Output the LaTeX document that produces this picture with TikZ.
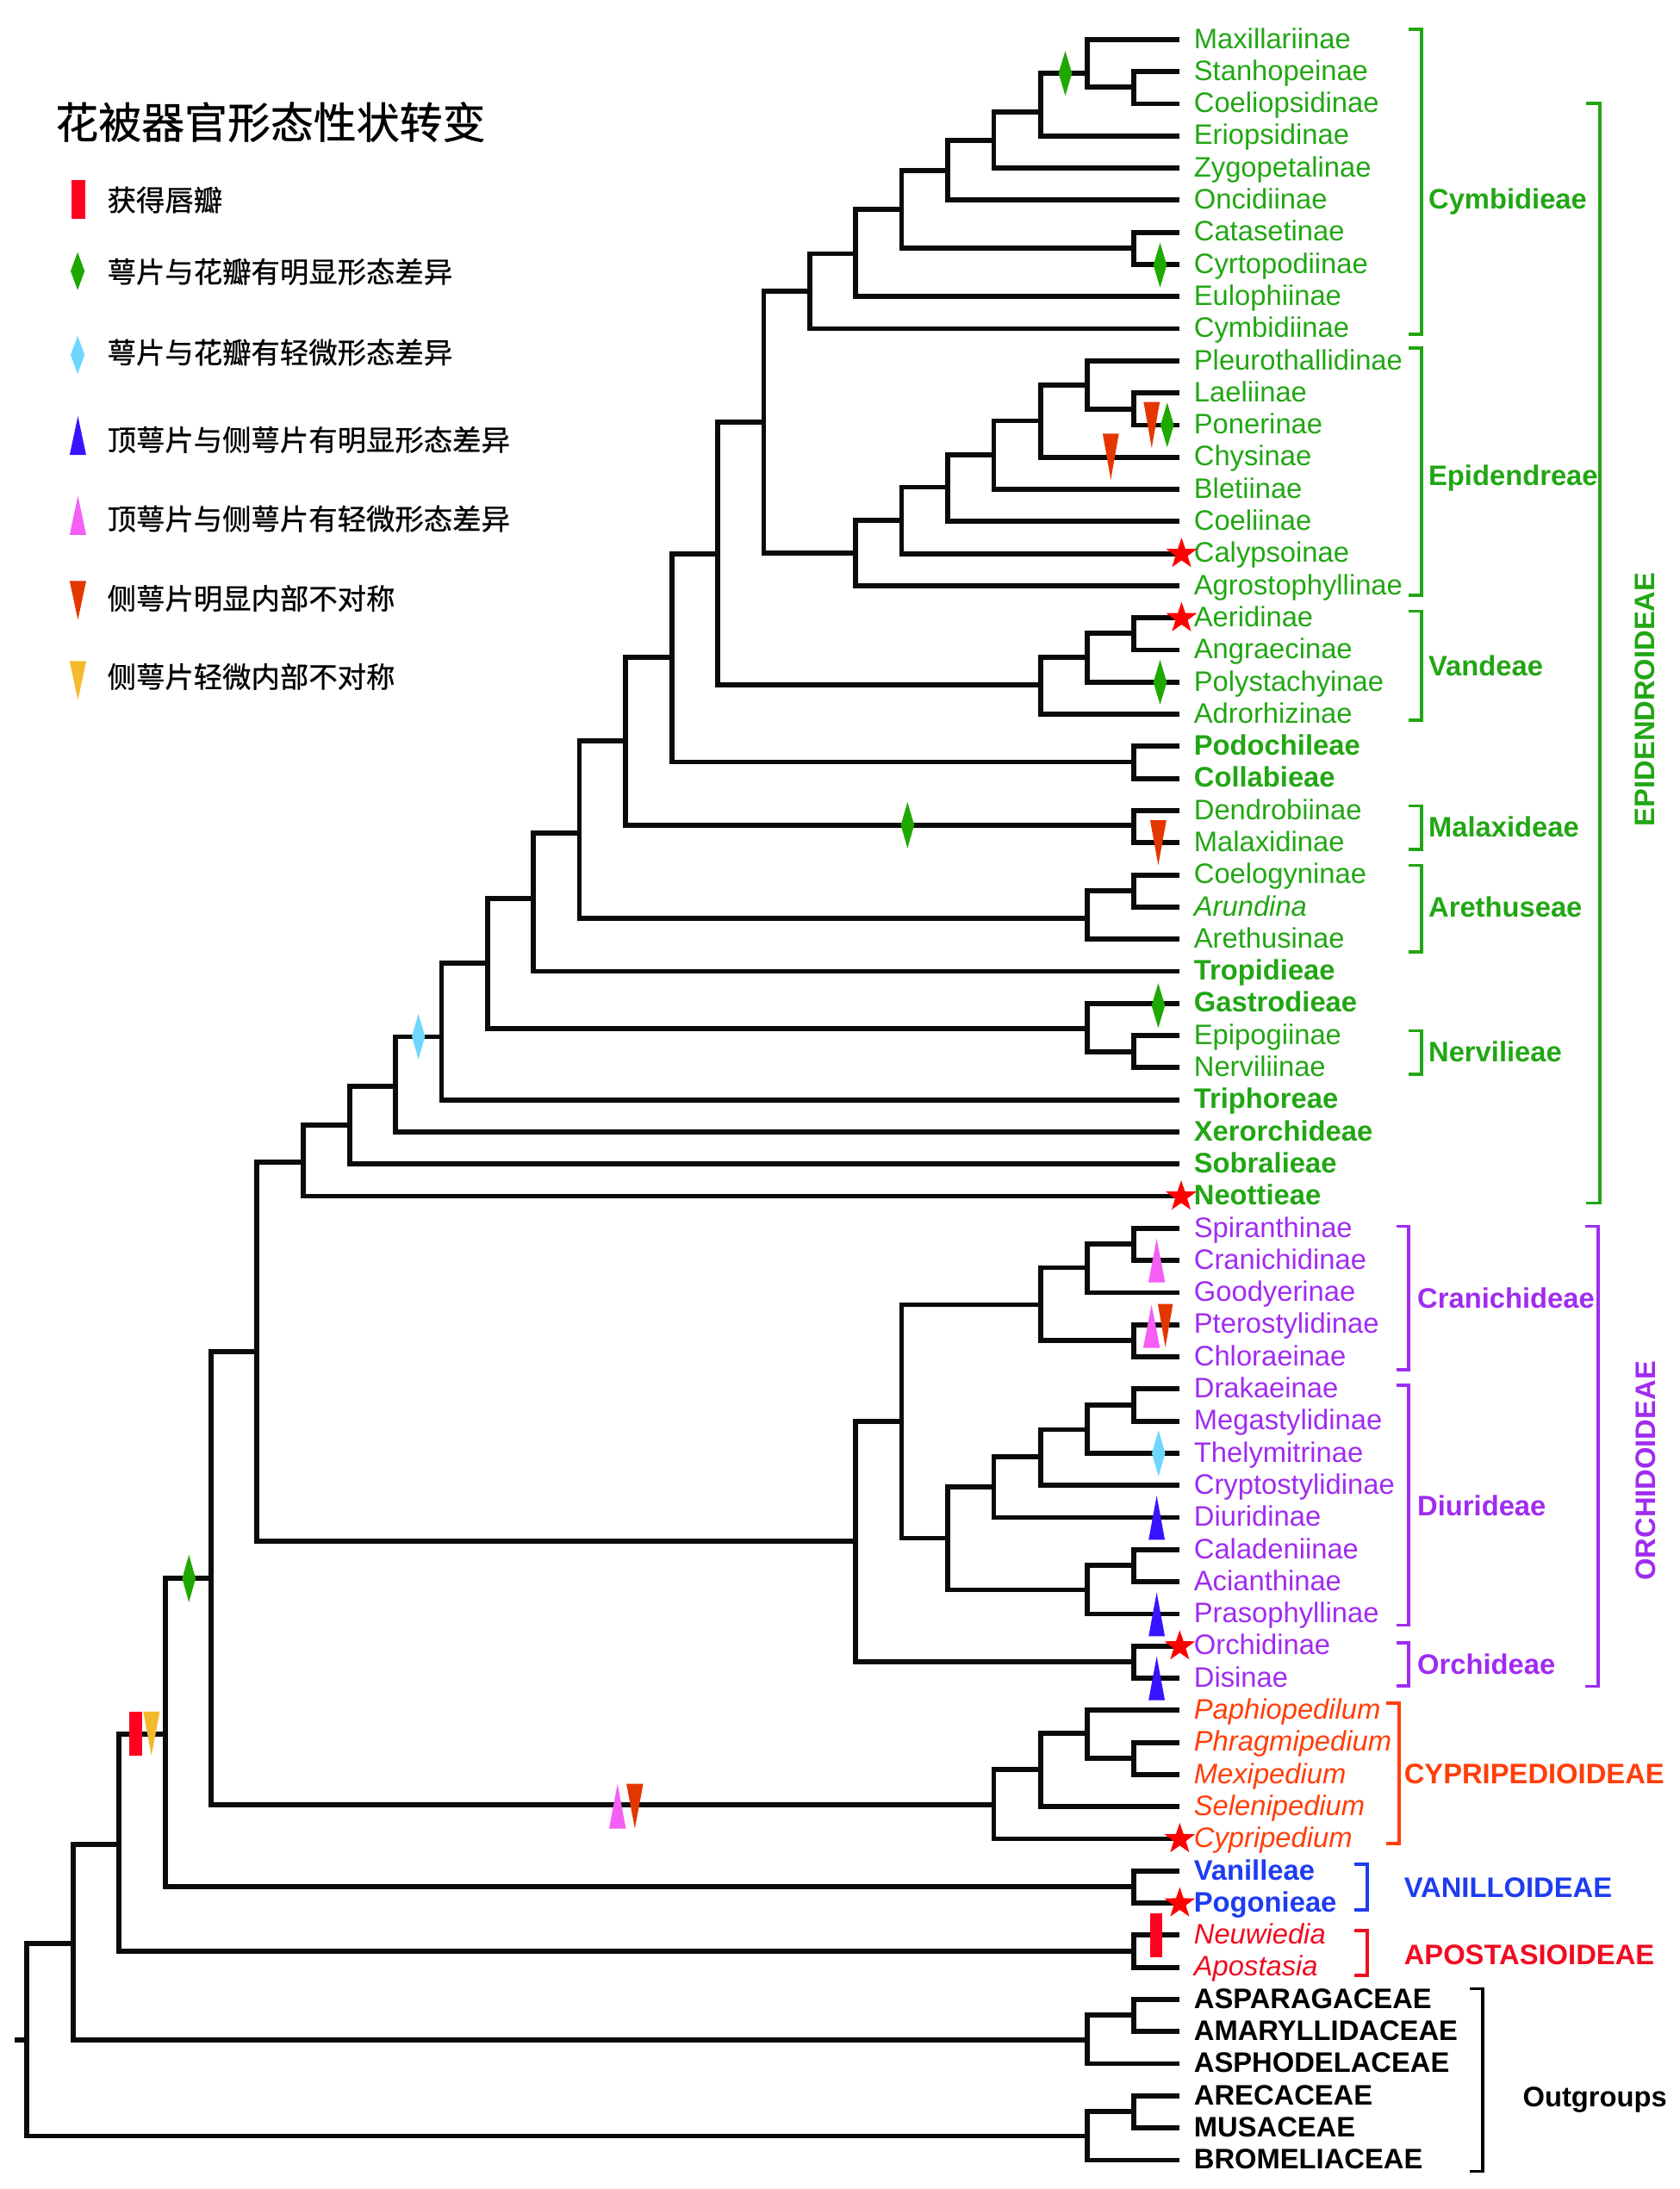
\documentclass[tikz,border=0pt]{standalone}
\usepackage{fontspec}
\setmainfont{Liberation Sans}
\newfontfamily\cjkfont[FakeBold=0.7]{Noto Sans CJK SC}
\usetikzlibrary{shapes.geometric,calc}
\definecolor{tgreen}{RGB}{34,166,20}
\definecolor{tpurple}{RGB}{160,44,240}
\definecolor{torange}{RGB}{255,62,10}
\definecolor{tblue}{RGB}{30,60,240}
\definecolor{tred}{RGB}{240,12,32}
\definecolor{lineblack}{RGB}{10,12,10}
\definecolor{mred}{RGB}{255,0,32}
\definecolor{mgreen}{RGB}{30,168,0}
\definecolor{mlblue}{RGB}{110,215,255}
\definecolor{mblue}{RGB}{55,20,255}
\definecolor{mpink}{RGB}{245,95,245}
\definecolor{mrorange}{RGB}{228,55,0}
\definecolor{morange}{RGB}{245,185,45}
\definecolor{starred}{RGB}{255,0,0}
\newcommand{\mkdia}[5]{\fill[#1] (#2,#3) ++(0,-#5) -- ++(#4,#5) -- ++(-#4,#5) -- ++(-#4,-#5) -- cycle;}
\newcommand{\mkup}[5]{\fill[#1] (#2,#3) ++(0,-#5) -- ++(#4,2*#5) -- ++(-2*#4,0) -- cycle;}
\newcommand{\mkdown}[5]{\fill[#1] (#2,#3) ++(0,#5) -- ++(#4,-2*#5) -- ++(-2*#4,0) -- cycle;}
\newcommand{\mkbar}[5]{\fill[#1] (#2,#3) ++(-#4,-#5) rectangle ++(2*#4,2*#5);}
\newcommand{\mkstar}[2]{\fill[starred, shift={(#1,#2)}] (-90:11.6) -- (-54:4.6) -- (-18:11.6) -- (18:4.6) -- (54:11.6) -- (90:4.6) -- (126:11.6) -- (162:4.6) -- (198:11.6) -- (234:4.6) -- cycle;}
\begin{document}
\begin{tikzpicture}[x=1pt,y=-1pt,
  br/.style={line width=3.6pt, draw=lineblack, line join=miter, line cap=butt},
  brk/.style={line width=2.2pt, line join=miter, line cap=butt},
  leaf/.style={anchor=base west, inner sep=0pt, font=\fontsize{20.2}{24}\selectfont},
  lg/.style={leaf, text=tgreen},
  lgb/.style={leaf, text=tgreen, font=\fontsize{20.2}{24}\selectfont\bfseries},
  lgi/.style={leaf, text=tgreen, font=\fontsize{20.2}{24}\selectfont\itshape},
  lp/.style={leaf, text=tpurple},
  loi/.style={leaf, text=torange, font=\fontsize{20.2}{24}\selectfont\itshape},
  lbb/.style={leaf, text=tblue, font=\fontsize{20.2}{24}\selectfont\bfseries},
  lri/.style={leaf, text=tred, font=\fontsize{20.2}{24}\selectfont\itshape},
  lkb/.style={leaf, text=black, font=\fontsize{20.2}{24}\selectfont\bfseries},
  glab/.style={anchor=base west, inner sep=0pt, font=\fontsize{20.2}{24}\selectfont\bfseries},
  ttl/.style={anchor=base west, inner sep=0pt, font=\cjkfont\fontsize{30.8}{36}\selectfont},
  lgd/.style={anchor=base west, inner sep=0pt, font=\cjkfont\fontsize{20.6}{24}\selectfont}]
\useasboundingbox (0,0) rectangle (1203,1568);
\fill[white] (0,0) rectangle (1203,1568);

% ---------- leaves ----------
\foreach \i in {1,...,67} {\coordinate (L\i) at (845,{28.3+(\i-1)*23.015});}
\foreach \i/\t in {1/Maxillariinae,2/Stanhopeinae,3/Coeliopsidinae,4/Eriopsidinae,5/Zygopetalinae,
  6/Oncidiinae,7/Catasetinae,8/Cyrtopodiinae,9/Eulophiinae,10/Cymbidiinae,11/Pleurothallidinae,
  12/Laeliinae,13/Ponerinae,14/Chysinae,15/Bletiinae,16/Coeliinae,17/Calypsoinae,18/Agrostophyllinae,
  19/Aeridinae,20/Angraecinae,21/Polystachyinae,22/Adrorhizinae,25/Dendrobiinae,26/Malaxidinae,
  27/Coelogyninae,29/Arethusinae,32/Epipogiinae,33/Nerviliinae}
  {\node[lg] (T\i) at ($(L\i)+(10,6.3)$) {\t};}
\foreach \i/\t in {23/Podochileae,24/Collabieae,30/Tropidieae,31/Gastrodieae,34/Triphoreae,
  35/Xerorchideae,36/Sobralieae,37/Neottieae}
  {\node[lgb] (T\i) at ($(L\i)+(10,6.3)$) {\t};}
\node[lgi] (T28) at ($(L28)+(10,6.3)$) {Arundina};
\foreach \i/\t in {38/Spiranthinae,39/Cranichidinae,40/Goodyerinae,41/Pterostylidinae,42/Chloraeinae,
  43/Drakaeinae,44/Megastylidinae,45/Thelymitrinae,46/Cryptostylidinae,47/Diuridinae,
  48/Caladeniinae,49/Acianthinae,50/Prasophyllinae,51/Orchidinae,52/Disinae}
  {\node[lp] (T\i) at ($(L\i)+(10,6.3)$) {\t};}
\foreach \i/\t in {53/Paphiopedilum,54/Phragmipedium,55/Mexipedium,56/Selenipedium,57/Cypripedium}
  {\node[loi] (T\i) at ($(L\i)+(10,6.3)$) {\t};}
\node[lbb] (T58) at ($(L58)+(10,6.3)$) {Vanilleae};
\node[lbb] (T59) at ($(L59)+(10,6.3)$) {Pogonieae};
\node[lri] (T60) at ($(L60)+(10,6.3)$) {Neuwiedia};
\node[lri] (T61) at ($(L61)+(10,6.3)$) {Apostasia};
\foreach \i/\t in {62/ASPARAGACEAE,63/AMARYLLIDACEAE,64/ASPHODELACEAE,65/ARECACEAE,66/MUSACEAE,67/BROMELIACEAE}
  {\node[lkb] (T\i) at ($(L\i)+(10,6.3)$) {\t};}

% ---------- internal nodes ----------
\coordinate (cSC) at (812,62.5);
\coordinate (cM) at (778.5,52.5);
\coordinate (cE) at (745.3,80);
\coordinate (cZ) at (711.8,100.5);
\coordinate (cO) at (678.8,122);
\coordinate (cCC) at (812,177.6);
\coordinate (cF) at (645.8,150);
\coordinate (cH) at (613,181.7);
\coordinate (cI) at (580,208.6);
\coordinate (eLP) at (812,293);
\coordinate (ePL) at (778.5,276);
\coordinate (eCh) at (745.3,301.4);
\coordinate (eBl) at (711.8,326);
\coordinate (eCo) at (678.8,349);
\coordinate (eCa) at (645.8,372.5);
\coordinate (eAg) at (613,396);
\coordinate (nCE) at (547,302.2);
\coordinate (vAA) at (812,453.8);
\coordinate (vPo) at (778.5,470.6);
\coordinate (vAd) at (745.3,490.5);
\coordinate (nV) at (514.2,397);
\coordinate (nPC) at (812,545.8);
\coordinate (nX) at (481.3,470.6);
\coordinate (nDM) at (812,591.2);
\coordinate (nY) at (448,530.8);
\coordinate (aCA) at (812,637.8);
\coordinate (aAr) at (778.5,657.8);
\coordinate (nZ) at (415,596.7);
\coordinate (nTr) at (382.2,643.5);
\coordinate (gEN) at (812,753.5);
\coordinate (gGa) at (778.5,736.8);
\coordinate (nGa) at (349.3,689.8);
\coordinate (nTp) at (316.3,742.6);
\coordinate (nXe) at (283.2,777.9);
\coordinate (nSo) at (250.3,806);
\coordinate (nNe) at (217,832.2);
\coordinate (oSC) at (812,891.1);
\coordinate (oGo) at (778.5,908);
\coordinate (oPC) at (812,960.2);
\coordinate (oCr) at (745.3,934.6);
\coordinate (oDM) at (812,1006.2);
\coordinate (oTh) at (778.5,1024);
\coordinate (oCy) at (745.3,1043.5);
\coordinate (oDi) at (711.8,1065.1);
\coordinate (oCA) at (812,1121.3);
\coordinate (oPr) at (778.5,1138.8);
\coordinate (oDd) at (678.8,1101.8);
\coordinate (oCD) at (645.8,1018);
\coordinate (oOD) at (812,1190.3);
\coordinate (oAll) at (613,1104);
\coordinate (nEO) at (184,968);
\coordinate (yPM) at (812,1259.4);
\coordinate (yPa) at (778.5,1241.5);
\coordinate (ySe) at (745.3,1267.6);
\coordinate (yCp) at (711.8,1293);
\coordinate (nCy) at (151.3,1130.5);
\coordinate (vVP) at (812,1351.4);
\coordinate (nVa) at (118.3,1242);
\coordinate (aNA) at (812,1397.5);
\coordinate (nOr) at (85.4,1321);
\coordinate (gAA) at (812,1443.5);
\coordinate (gAs) at (778.5,1461);
\coordinate (nMo) at (52.6,1392);
\coordinate (gAM) at (812,1512.5);
\coordinate (gBr) at (778.5,1530);
\coordinate (root) at (19,1461);
\coordinate (rstub) at (10.5,1461);

% ---------- branches ----------
\foreach \p/\c in {cSC/L2,cSC/L3,cM/L1,cM/cSC,cE/cM,cE/L4,cZ/cE,cZ/L5,cO/cZ,cO/L6,
  cCC/L7,cCC/L8,cF/cO,cF/cCC,cH/cF,cH/L9,cI/cH,cI/L10,
  eLP/L12,eLP/L13,ePL/L11,ePL/eLP,eCh/ePL,eCh/L14,eBl/eCh,eBl/L15,eCo/eBl,eCo/L16,
  eCa/eCo,eCa/L17,eAg/eCa,eAg/L18,nCE/cI,nCE/eAg,
  vAA/L19,vAA/L20,vPo/vAA,vPo/L21,vAd/vPo,vAd/L22,nV/nCE,nV/vAd,
  nPC/L23,nPC/L24,nX/nV,nX/nPC,nDM/L25,nDM/L26,nY/nX,nY/nDM,
  aCA/L27,aCA/L28,aAr/aCA,aAr/L29,nZ/nY,nZ/aAr,nTr/nZ,nTr/L30,
  gEN/L32,gEN/L33,gGa/L31,gGa/gEN,nGa/nTr,nGa/gGa,nTp/nGa,nTp/L34,
  nXe/nTp,nXe/L35,nSo/nXe,nSo/L36,nNe/nSo,nNe/L37,
  oSC/L38,oSC/L39,oGo/oSC,oGo/L40,oPC/L41,oPC/L42,oCr/oGo,oCr/oPC,
  oDM/L43,oDM/L44,oTh/oDM,oTh/L45,oCy/oTh,oCy/L46,oDi/oCy,oDi/L47,
  oCA/L48,oCA/L49,oPr/oCA,oPr/L50,oDd/oDi,oDd/oPr,oCD/oCr,oCD/oDd,
  oOD/L51,oOD/L52,oAll/oCD,oAll/oOD,nEO/nNe,nEO/oAll,
  yPM/L54,yPM/L55,yPa/L53,yPa/yPM,ySe/yPa,ySe/L56,yCp/ySe,yCp/L57,
  nCy/nEO,nCy/yCp,vVP/L58,vVP/L59,nVa/nCy,nVa/vVP,aNA/L60,aNA/L61,
  nOr/nVa,nOr/aNA,gAA/L62,gAA/L63,gAs/gAA,gAs/L64,nMo/nOr,nMo/gAs,
  gAM/L65,gAM/L66,gBr/gAM,gBr/L67,root/nMo,root/gBr}
  {\draw[br] (\p) |- (\c);}
\draw[br] (rstub) -- (root);

% ---------- brackets ----------
\draw[brk, tgreen] (1008.8,21) -- (1018,21) -- (1018,239.4) -- (1008.8,239.4);
\draw[brk, tgreen] (1008.8,249.2) -- (1018,249.2) -- (1018,426.5) -- (1008.8,426.5);
\draw[brk, tgreen] (1008.8,437.9) -- (1018,437.9) -- (1018,515.7) -- (1008.8,515.7);
\draw[brk, tgreen] (1008.8,577.3) -- (1018,577.3) -- (1018,608.4) -- (1008.8,608.4);
\draw[brk, tgreen] (1008.8,619.8) -- (1018,619.8) -- (1018,681.9) -- (1008.8,681.9);
\draw[brk, tgreen] (1008.8,738.2) -- (1018,738.2) -- (1018,769.6) -- (1008.8,769.6);
\draw[brk, tgreen] (1136,74) -- (1146,74) -- (1146,861.7) -- (1136,861.7);
\draw[brk, tpurple] (1000,878.5) -- (1009,878.5) -- (1009,981) -- (1000,981);
\draw[brk, tpurple] (1000,992.3) -- (1009,992.3) -- (1009,1164.2) -- (1000,1164.2);
\draw[brk, tpurple] (1000,1176.6) -- (1009,1176.6) -- (1009,1207.7) -- (1000,1207.7);
\draw[brk, tpurple] (1135.5,878.5) -- (1144.6,878.5) -- (1144.6,1208) -- (1135.5,1208);
\draw[brk, torange] (993,1220.1) -- (1002,1220.1) -- (1002,1320.4) -- (993,1320.4);
\draw[brk, tblue] (970,1335.4) -- (979.4,1335.4) -- (979.4,1368) -- (970,1368);
\draw[brk, tred] (970,1382.9) -- (979.4,1382.9) -- (979.4,1415) -- (970,1415);
\draw[brk, black] (1053,1424.4) -- (1062,1424.4) -- (1062,1555.3) -- (1053,1555.3);

% ---------- group labels ----------
\node[glab, text=tgreen] (gCym) at (1023,149.4) {Cymbidieae};
\node[glab, text=tgreen] (gEpi) at (1023,347.8) {Epidendreae};
\node[glab, text=tgreen] (gVan) at (1023,483.8) {Vandeae};
\node[glab, text=tgreen] (gMal) at (1023,599.3) {Malaxideae};
\node[glab, text=tgreen] (gAre) at (1023,656.8) {Arethuseae};
\node[glab, text=tgreen] (gNer) at (1023,760.8) {Nervilieae};
\node[glab, text=tgreen, anchor=center, rotate=90] (gEPI) at (1178,501) {EPIDENDROIDEAE};
\node[glab, text=tpurple] (gCra) at (1015,936.8) {Cranichideae};
\node[glab, text=tpurple] (gDiu) at (1015,1085.8) {Diurideae};
\node[glab, text=tpurple] (gOrc) at (1015,1199.1) {Orchideae};
\node[glab, text=tpurple, anchor=center, rotate=90] (gORC) at (1179,1053.6) {ORCHIDOIDEAE};
\node[glab, text=torange] (gCYP) at (1005.5,1277.8) {CYPRIPEDIOIDEAE};
\node[glab, text=tblue] (gVAN) at (1005.5,1358.8) {VANILLOIDEAE};
\node[glab, text=tred] (gAPO) at (1005.5,1407.1) {APOSTASIOIDEAE};
\node[glab, text=black] (gOut) at (1090.5,1509.3) {Outgroups};

% ---------- markers on tree ----------
\mkdia{mgreen}{763}{52.5}{4.8}{16}
\mkdia{mgreen}{830.9}{189.9}{4.8}{16}
\mkdown{mrorange}{824.9}{304.4}{5.8}{16.5}
\mkdia{mgreen}{836}{304.4}{4.8}{16}
\mkdown{mrorange}{795.6}{327.1}{5.8}{16.5}
\mkdia{mgreen}{830.9}{488.7}{4.8}{16}
\mkdia{mgreen}{650}{591}{4.8}{16.5}
\mkdown{mrorange}{829.6}{603.7}{5.8}{16.1}
\mkdia{mgreen}{829.6}{720.3}{4.8}{16}
\mkdia{mlblue}{299.7}{742.4}{4.7}{16.2}
\mkup{mpink}{828.5}{902.9}{6}{15.7}
\mkup{mpink}{824.8}{950}{6}{15.5}
\mkdown{mrorange}{834.7}{949.5}{5.4}{15.5}
\mkdia{mlblue}{829.8}{1041}{4.8}{16.5}
\mkup{mblue}{828.5}{1087.1}{5.8}{15.8}
\mkup{mblue}{828.5}{1156.3}{5.8}{15.7}
\mkup{mblue}{828.5}{1202.1}{5.8}{15.7}
\mkup{mpink}{442.3}{1293.8}{6}{16}
\mkdown{mrorange}{454.7}{1293.8}{6}{16}
\mkdia{mgreen}{135.3}{1130.7}{4.8}{17}
\mkbar{mred}{97.2}{1241.8}{4.8}{15.8}
\mkdown{morange}{108.5}{1241.8}{5.9}{15.8}
\mkbar{mred}{828.1}{1386.2}{4.6}{15.7}
\mkstar{846.3}{396.8}
\mkstar{846.3}{442.8}
\mkstar{846}{857.1}
\mkstar{845}{1179.3}
\mkstar{845}{1317.4}
\mkstar{845}{1363.4}

% ---------- legend ----------
\node[ttl] (title) at (39.5,99.2) {花被器官形态性状转变};
\mkbar{mred}{56.2}{143}{5.05}{14}
\mkdia{mgreen}{55.6}{194.2}{5}{13.6}
\mkdia{mlblue}{55.6}{254.2}{5}{13.6}
\mkup{mblue}{55.8}{312}{5.9}{13.9}
\mkup{mpink}{55.8}{369.2}{5.9}{13.9}
\mkdown{mrorange}{55.8}{430.1}{5.9}{13.9}
\mkdown{morange}{55.8}{487.5}{5.9}{13.9}
\node[lgd] (k1) at (76.7,151) {获得唇瓣};
\node[lgd] (k2) at (76.7,202.4) {萼片与花瓣有明显形态差异};
\node[lgd] (k3) at (76.7,260.2) {萼片与花瓣有轻微形态差异};
\node[lgd] (k4) at (76.7,322.8) {顶萼片与侧萼片有明显形态差异};
\node[lgd] (k5) at (76.7,379.4) {顶萼片与侧萼片有轻微形态差异};
\node[lgd] (k6) at (76.7,436.4) {侧萼片明显内部不对称};
\node[lgd] (k7) at (76.7,492.5) {侧萼片轻微内部不对称};
\end{tikzpicture}
\end{document}
